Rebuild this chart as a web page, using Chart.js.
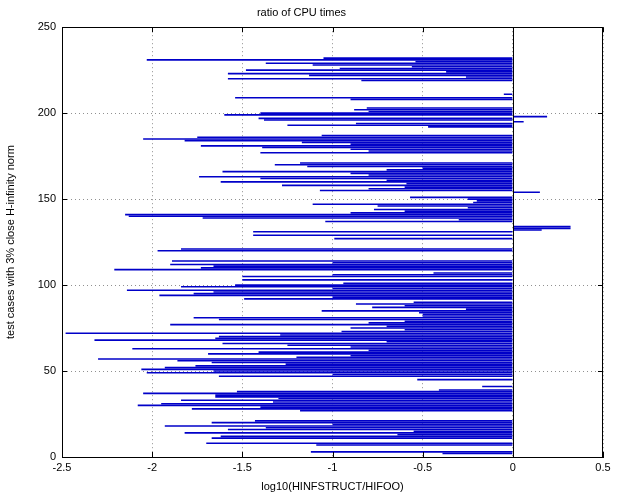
<!DOCTYPE html>
<html>
<head>
<meta charset="utf-8">
<script src="https://cdn.jsdelivr.net/npm/chart.js@4/dist/chart.umd.min.js"></script>
<style>
html,body{margin:0;padding:0;background:#ffffff;}
#wrap{width:623px;height:498px;position:relative;}
</style>
</head>
<body>
<div id="wrap"><canvas id="c" width="623" height="498"></canvas></div>
<script>
// log10(HINFSTRUCT/HIFOO) for test cases 1..232
const ratioValues = [
  0, -0.39, -1.12, 0, 0, 0, -1.09, -1.70, 0, 0,
  -1.67, -1.62, -0.64, -1.82, -0.55, -1.58, -1.37, -1.93, -1.00, -1.67,
  -1.43, 0, 0, 0, 0, 0, -1.18, -1.78, -1.40, -2.08,
  -1.95, -1.33, -1.84, -1.30, -1.65, -1.65, -2.05, -1.53, -0.41, 0,
  -0.17, 0, 0, 0, -0.53, 0, -1.63, -1.00, -2.03, -1.66,
  -2.06, -1.93, -1.76, -1.26, -1.67, -1.86, -2.30, -1.20, -0.90, -1.69,
  -1.41, -0.80, -2.11, -0.90, -1.25, -1.61, -0.70, -2.32, -1.65, -1.63,
  -1.29, -2.48, -0.95, -0.60, -0.90, -0.70, -1.90, -0.80, -0.60, -1.63,
  -1.77, -0.50, -0.50, -0.52, -1.06, -0.26, -0.78, -0.60, -0.87, -0.55,
  0, -1.49, -1.00, -1.96, -1.77, -1.66, -2.14, -1.00, -1.84, -1.54,
  -0.94, 0, -1.50, 0, -1.50, -1.00, -0.44, 0, -2.21, -1.73,
  -1.66, -1.90, -1.00, -1.89, 0, 0, 0, 0, 0, -1.97,
  -1.84, 0, 0, 0, 0, 0, -0.99, 0, -1.44, 0,
  -1.44, 0.16, 0.32, 0.32, 0, 0, -1.04, -0.30, -1.72, -2.13,
  -2.15, -0.90, -0.60, -0.77, -0.25, -0.75, -1.11, -0.22, -0.20, -0.25,
  -0.57, 0, 0, 0.15, -1.07, -0.80, -0.60, -1.28, -0.59, -1.62,
  -0.70, -1.40, -1.74, -0.80, -0.90, -1.61, -0.70, -0.50, -1.14, -1.32,
  -1.18, 0, 0, 0, 0, 0, -1.40, -0.80, -0.90, -1.39,
  -1.73, -0.90, -1.17, -1.82, -2.05, -1.75, -1.06, 0, 0, 0,
  0, -0.47, -1.25, -0.87, 0.06, -1.38, -1.41, 0.19, -1.60, -1.40,
  -0.80, -0.88, -0.81, 0, 0, 0, 0, -0.90, -1.54, 0,
  -0.05, 0, 0, 0, 0, 0, 0, 0, -0.84, -1.58,
  -0.26, -1.13, -1.58, -0.37, -1.48, -0.96, -0.56, -1.11, -1.37, -0.54,
  -2.03, -1.05
];
const caseNumbers = ratioValues.map((v, i) => i + 1);
const xTicks = [-2.5, -2, -1.5, -1, -0.5, 0, 0.5];
const yTicks = [0, 50, 100, 150, 200, 250];
const titleText = 'ratio of CPU times';
const xLabel = 'log10(HINFSTRUCT/HIFOO)';
const yLabel = 'test cases with 3% close H-infinity norm';

const FONT = 'Liberation Sans, Arial, Helvetica, sans-serif';

const boxPlugin = {
  id: 'box',
  afterDatasetsDraw(chart) {
    const {ctx, chartArea: a, scales} = chart;
    ctx.save();
    const x0 = Math.round(scales.x.getPixelForValue(0)) + 0.5;
    ctx.strokeStyle = '#000';
    ctx.lineWidth = 1;
    ctx.beginPath();
    ctx.moveTo(x0, a.top); ctx.lineTo(x0, a.bottom);
    ctx.stroke();
    ctx.strokeRect(Math.round(a.left) + 0.5, Math.round(a.top) + 0.5,
                   Math.round(a.right - a.left) - 1, Math.round(a.bottom - a.top));
    const tl = 5;
    ctx.beginPath();
    xTicks.forEach(v => {
      const px = Math.round(scales.x.getPixelForValue(v)) + 0.5;
      ctx.moveTo(px, a.bottom); ctx.lineTo(px, a.bottom - tl);
      ctx.moveTo(px, a.top); ctx.lineTo(px, a.top + tl);
    });
    yTicks.forEach(v => {
      const py = Math.round(scales.y.getPixelForValue(v)) + 0.5;
      ctx.moveTo(a.left, py); ctx.lineTo(a.left + tl, py);
      ctx.moveTo(a.right, py); ctx.lineTo(a.right - tl, py);
    });
    ctx.stroke();
    ctx.restore();
  }
};

new Chart(document.getElementById('c'), {
  type: 'bar',
  data: {
    datasets: [{
      data: caseNumbers.map((n, i) => ({x: ratioValues[i], y: n})),
      backgroundColor: '#0000c8',
      borderWidth: 0,
      barPercentage: 0.94,
      categoryPercentage: 1.0
    }]
  },
  options: {
    indexAxis: 'y',
    responsive: false,
    animation: false,
    events: [],
    layout: {padding: {left: 0, right: 20, top: 0, bottom: 0}},
    plugins: {
      legend: {display: false},
      tooltip: {enabled: false},
      title: {
        display: true, text: titleText, color: '#000',
        font: {family: FONT, size: 11, weight: 'normal'},
        padding: {top: 6, bottom: 8}
      }
    },
    scales: {
      x: {
        type: 'linear', min: -2.5, max: 0.5, offset: false,
        afterBuildTicks(s) { s.ticks = xTicks.map(v => ({value: v})); },
        afterFit(s) { s.height = 41; },
        ticks: {
          color: '#000', font: {family: FONT, size: 11}, padding: 4,
          maxRotation: 0,
          callback: v => String(v)
        },
        grid: {color: '#909090', drawTicks: false, lineWidth: 1, offset: false},
        border: {display: true, color: '#000', dash: [1, 3]},
        title: {
          display: true, text: xLabel, color: '#000',
          font: {family: FONT, size: 11}, padding: {top: 4, bottom: 4}
        }
      },
      y: {
        type: 'linear', min: 0, max: 250, offset: false,
        afterBuildTicks(s) { s.ticks = yTicks.map(v => ({value: v})); },
        afterFit(s) { s.width = 62; },
        ticks: {
          color: '#000', font: {family: FONT, size: 11}, padding: 6,
          callback: v => String(v)
        },
        grid: {color: '#909090', drawTicks: false, lineWidth: 1, offset: false},
        border: {display: true, color: '#000', dash: [1, 3]},
        title: {
          display: true, text: yLabel, color: '#000',
          font: {family: FONT, size: 11}, padding: {top: 4, bottom: 4}
        }
      }
    }
  },
  plugins: [boxPlugin]
});
</script>
</body>
</html>
